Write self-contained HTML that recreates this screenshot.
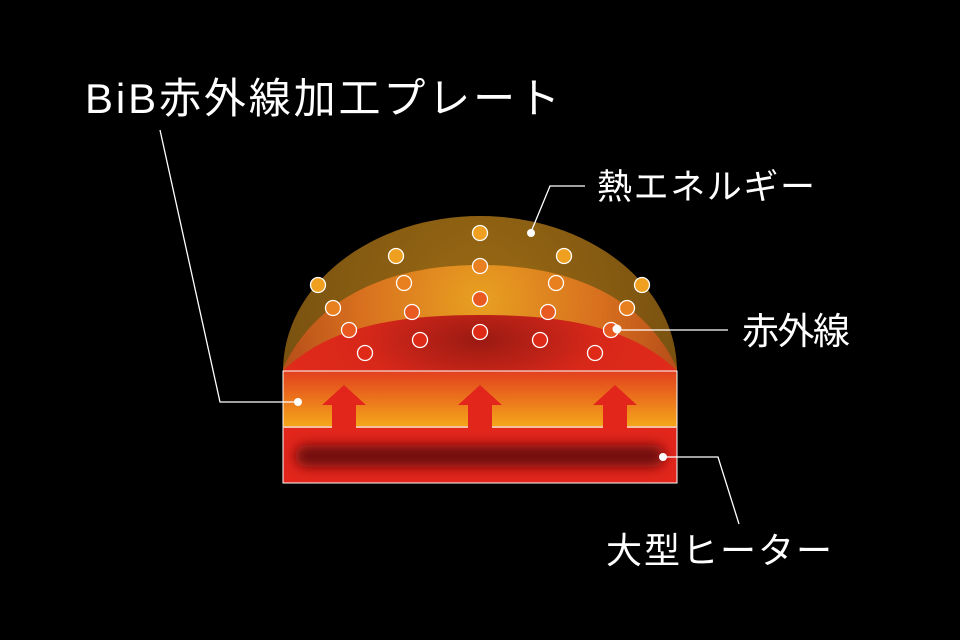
<!DOCTYPE html>
<html><head><meta charset="utf-8"><style>
html,body{margin:0;padding:0;background:#000;}
svg{display:block}
text{font-family:"Liberation Sans","Noto Sans CJK JP",sans-serif;fill:#fff;}
</style></head><body>
<svg width="960" height="640" viewBox="0 0 960 640" xmlns="http://www.w3.org/2000/svg">
<defs>
<radialGradient id="g1" cx="480" cy="300" r="200" gradientUnits="userSpaceOnUse">
<stop offset="0" stop-color="#9a6a14"/><stop offset="1" stop-color="#7a5210"/></radialGradient>
<radialGradient id="g2" cx="480" cy="300" r="200" gradientUnits="userSpaceOnUse">
<stop offset="0" stop-color="#e8a020"/><stop offset="0.6" stop-color="#d8701f"/><stop offset="1" stop-color="#b8501a"/></radialGradient>
<radialGradient id="g3" cx="480" cy="340" r="200" gradientUnits="userSpaceOnUse" gradientTransform="translate(480 340) scale(1 0.4) translate(-480 -340)">
<stop offset="0" stop-color="#9a1a12"/><stop offset="0.6" stop-color="#d8281a"/><stop offset="1" stop-color="#e02a1a"/></radialGradient>
<linearGradient id="gp" x1="0" y1="0" x2="0" y2="1">
<stop offset="0" stop-color="#e2401e"/><stop offset="1" stop-color="#f4a81a"/></linearGradient>
<filter id="bl" x="-20%" y="-100%" width="140%" height="300%"><feGaussianBlur stdDeviation="6"/></filter>
<clipPath id="dome"><path d="M283,371 A197,155 0 0 1 677,371 Z"/></clipPath>
</defs>
<rect width="960" height="640" fill="#000"/>
<path d="M283,371 A197,155 0 0 1 677,371 Z" fill="url(#g1)"/>
<g clip-path="url(#dome)">
<path d="M283,368 C320,290 400,265 480,265 C560,265 640,290 677,368 L677,371 L283,371 Z" fill="url(#g2)"/>
<path d="M283,371 C330,325 400,315 480,315 C560,315 630,325 677,371 Z" fill="url(#g3)"/>
</g>
<g stroke="#fff" stroke-width="1.3">
<g fill="#f0a020">
<circle cx="480" cy="233" r="7.5"/><circle cx="396" cy="256" r="7.5"/><circle cx="564" cy="256" r="7.5"/><circle cx="318" cy="285" r="7.5"/><circle cx="642" cy="285" r="7.5"/></g>
<g fill="#e8801f">
<circle cx="480" cy="266" r="7.5"/><circle cx="404" cy="283" r="7.5"/><circle cx="556" cy="283" r="7.5"/><circle cx="333" cy="308" r="7.5"/><circle cx="627" cy="308" r="7.5"/></g>
<g fill="#e85a20">
<circle cx="480" cy="299" r="7.5"/><circle cx="412" cy="312" r="7.5"/><circle cx="548" cy="312" r="7.5"/><circle cx="349" cy="330" r="7.5"/><circle cx="611" cy="330" r="7.5"/></g>
<g fill="#e02a18">
<circle cx="480" cy="332" r="7.5"/><circle cx="420" cy="340" r="7.5"/><circle cx="540" cy="340" r="7.5"/><circle cx="365" cy="353" r="7.5"/><circle cx="595" cy="353" r="7.5"/></g>
</g>
<rect x="283" y="371" width="394" height="56" fill="url(#gp)" stroke="#fff" stroke-width="1"/>
<rect x="283" y="427" width="394" height="56" fill="#e2261c" stroke="#fff" stroke-width="1"/>
<line x1="283" y1="427" x2="677" y2="427" stroke="#f6c0a0" stroke-width="2"/>
<rect x="295" y="445" width="370" height="22" rx="11" fill="#6e0a0e" filter="url(#bl)"/>
<g fill="#e2261c">
<path d="M344,385 L366,405 L356,405 L356,428 L332,428 L332,405 L322,405 Z"/>
<path d="M480,385 L502,405 L492,405 L492,428 L468,428 L468,405 L458,405 Z"/>
<path d="M615,385 L637,405 L627,405 L627,428 L603,428 L603,405 L593,405 Z"/>
</g>
<g stroke="#fff" stroke-width="1.3" fill="none">
<polyline points="160,130 220,402 298,402"/>
<polyline points="585,186 550,186 531,232"/>
<line x1="617" y1="330" x2="728" y2="330"/>
<polyline points="663,457 718,457 739,524"/>
</g>
<g fill="#fff">
<circle cx="298" cy="402" r="4"/><circle cx="531" cy="233" r="4"/><circle cx="617" cy="329" r="4.5"/><circle cx="663" cy="457" r="4"/>
</g>
<text x="85" y="113" font-size="42" textLength="475" lengthAdjust="spacing">BiB赤外線加工プレート</text>
<text x="597" y="199" font-size="35" textLength="218" lengthAdjust="spacing">熱エネルギー</text>
<text x="742" y="344" font-size="37" textLength="108" lengthAdjust="spacing">赤外線</text>
<text x="606" y="563" font-size="36" textLength="226" lengthAdjust="spacing">大型ヒーター</text>
</svg>
</body></html>
